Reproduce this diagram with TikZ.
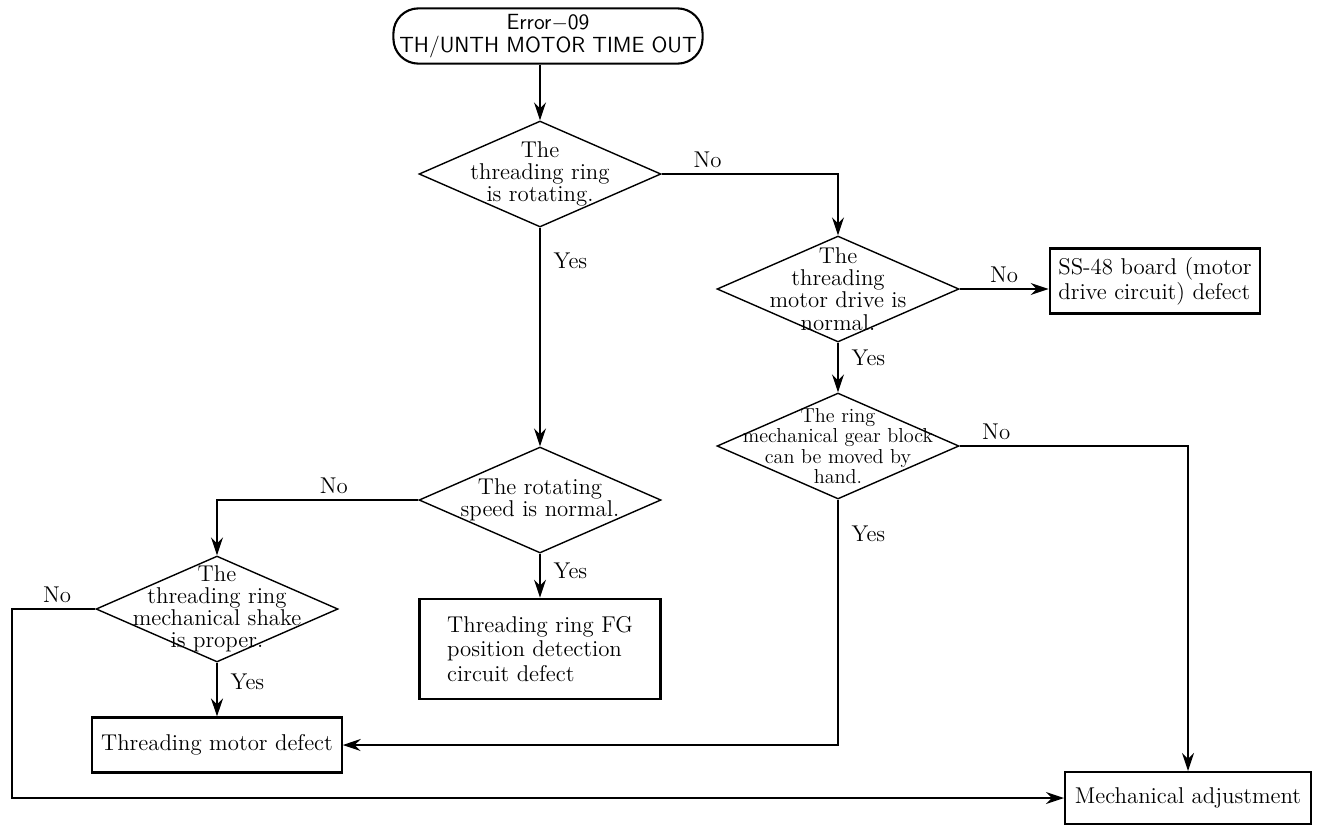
\documentclass[tikz,border=0pt]{standalone}
\usepackage{tikz}
\usetikzlibrary{shapes.geometric, arrows.meta, positioning, calc}

\tikzset{
    decision/.style={draw, diamond, line width=0.8pt, inner sep=0pt,
        minimum width=4.84cm, minimum height=2.12cm},
    dtext/.style={align=center, inner sep=0pt, font=\fontsize{13}{12.6}\selectfont},
    outbox/.style={draw, line width=1.2pt, inner sep=5pt, align=left,
        font=\fontsize{13}{14}\selectfont},
    flow/.style={-{Stealth[length=3.6mm, width=2.4mm, inset=1.2mm]}, line width=0.8pt},
    lbl/.style={font=\fontsize{13}{13}\selectfont},
    yeslbl/.style={lbl, right, xshift=4pt}
}

\begin{document}
\begin{tikzpicture}[x=0.02cm, y=-0.02cm]
\useasboundingbox (0,0) rectangle (1321,826);

% start of the chart
\node[draw, rounded corners=0.5cm, line width=1.2pt, minimum width=5.9cm, minimum height=1.1cm,
      align=center, font=\sffamily\fontsize{12.5}{13}\selectfont] (start) at (548,36)
      {Error$-$09\\TH/UNTH MOTOR TIME OUT};

% decisions
\node[decision] (ring) at (540,174) {};
\node[dtext] (ringt) at (ring) {The\\threading ring\\is rotating.};
\node[decision] (drive) at (838,289) {};
\node[dtext] (drivet) at (drive) {The\\threading\\motor drive is\\normal.};
\node[decision] (gear) at (838,446) {};
\node[dtext, font=\fontsize{11.5}{11.5}\selectfont] (geart) at (gear) {The ring\\mechanical gear block\\can be moved by\\hand.};
\node[decision] (speed) at (540,500) {};
\node[dtext] (speedt) at (speed) {The rotating\\speed is normal.};
\node[decision] (shake) at (217,609) {};
\node[dtext] (shaket) at (shake) {The\\threading ring\\mechanical shake\\is proper.};

% results
\node[outbox, minimum width=3.68cm, minimum height=1.06cm] (board) at (1155,281)
      {SS-48 board (motor\\drive circuit) defect};
\node[outbox, minimum width=4.82cm, minimum height=1.64cm, inner sep=10pt] (fg) at (540,649)
      {Threading ring FG\\position detection\\circuit defect};
\node[outbox, minimum width=4.94cm, minimum height=1.1cm] (motor) at (217,745)
      {Threading motor defect};
\node[outbox, minimum width=4.92cm, minimum height=1.04cm] (mech) at (1188,798)
      {Mechanical adjustment};
\coordinate (lft) at (12,798);

% connectors
\draw[flow] (start.south -| ring.north) -- (ring.north);
\draw[flow] (ring.east) -| node[lbl, pos=0.13, above] {No} (drive.north);
\draw[flow] (ring.south) -- node[yeslbl, pos=0.15] {Yes} (speed.north);
\draw[flow] (drive.east) -- node[lbl, midway, above] {No} (drive.east -| board.west);
\draw[flow] (drive.south) -- node[yeslbl, pos=0.3] {Yes} (gear.north);
\draw[flow] (gear.east) -| node[lbl, pos=0.08, above] {No} (mech.north);
\draw[flow] (gear.south) |- node[yeslbl, pos=0.07] {Yes} (motor.east);
\draw[flow] (speed.west) -| node[lbl, pos=0.21, above] {No} (shake.north);
\draw[flow] (speed.south) -- node[yeslbl, pos=0.4] {Yes} (fg.north);
\draw[flow] (shake.south) -- node[yeslbl, pos=0.35] {Yes} (motor.north);
\draw[flow] (shake.west) -| node[lbl, pos=0.23, above] {No} (lft) -- (mech.west);
\end{tikzpicture}
\end{document}
